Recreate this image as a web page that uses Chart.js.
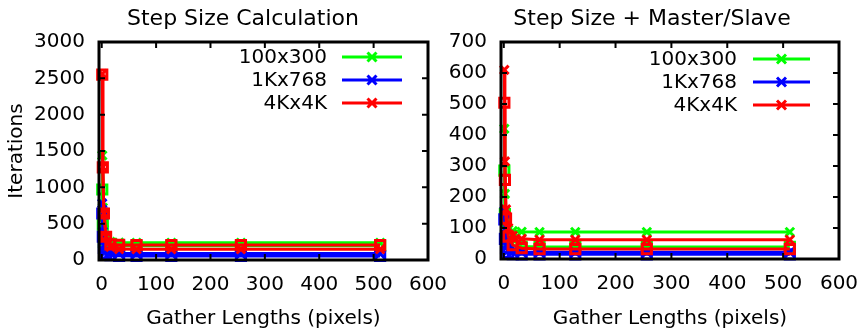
<!DOCTYPE html>
<html>
<head>
<meta charset="utf-8">
<script src="https://cdn.jsdelivr.net/npm/chart.js@4.4.0/dist/chart.umd.min.js"></script>
<style>
  html, body { margin: 0; padding: 0; background: #fff; }
  #wrap { position: relative; width: 861px; height: 329px; overflow: hidden; }
  canvas { position: absolute; top: 0; }
  #grafica-calc { left: 0; }
  #grafica-ms { left: 440px; }
</style>
</head>
<body>
<div id="wrap">
  <canvas id="grafica-calc" width="486" height="329"></canvas>
  <canvas id="grafica-ms" width="421" height="329"></canvas>
</div>
<script>
// Gather lengths (x) shared by every series
const gatherLengths = [1, 2, 4, 8, 16, 32, 64, 128, 256, 512];
const seriesNames = ['100x300', '1Kx768', '4Kx4K'];
const xTicks = [0, 100, 200, 300, 400, 500, 600];

// Step Size Calculation (left)
const calcYTicks = [0, 500, 1000, 1500, 2000, 2500, 3000];
const calcCross100 = [1440, 720, 420, 300, 250, 240, 238, 238, 238, 238];
const calcCross1K = [780, 390, 200, 120, 95, 90, 88, 88, 88, 88];
const calcCross4K = [2560, 1280, 640, 320, 180, 150, 148, 148, 148, 148];
const calcBox100 = [970, 485, 250, 200, 195, 195, 195, 195, 195, 195];
const calcBox1K = [640, 320, 165, 90, 65, 58, 55, 55, 55, 55];
const calcBox4K = [2550, 1275, 640, 320, 215, 208, 206, 206, 206, 206];

// Step Size + Master/Slave (right)
const msYTicks = [0, 100, 200, 300, 400, 500, 600, 700];
const msCross100 = [420, 210, 115, 95, 90, 88, 87, 87, 87, 87];
const msCross1K = [155, 80, 45, 28, 23, 22, 22, 22, 22, 22];
const msCross4K = [610, 315, 160, 100, 75, 65, 62, 62, 62, 62];
const msBox100 = [285, 145, 75, 50, 42, 40, 39, 39, 39, 39];
const msBox1K = [128, 65, 35, 20, 16, 15, 15, 15, 15, 15];
const msBox4K = [504, 255, 130, 72, 45, 35, 32, 32, 32, 32];

const colores = ['#00ff00', '#0000ff', '#ff0000'];
const fuente = 'DejaVu Sans';

// Una serie (cruces o cuadrados)
function serie(label, valores, color, estilo, orden) {
    return {
        label: label,
        data: gatherLengths.map((x, i) => ({ x: x, y: valores[i] })),
        borderColor: color,
        backgroundColor: 'rgba(0,0,0,0)',
        borderWidth: 3,
        pointStyle: estilo,
        pointRadius: estilo === 'rect' ? 6.5 : 6,
        pointBorderWidth: 3,
        pointBackgroundColor: 'rgba(0,0,0,0)',
        pointBorderColor: color,
        tension: 0,
        clip: 12,
        order: orden
    };
}

// Marco negro con marcas hacia adentro (estilo gnuplot)
const marco = {
    id: 'marco',
    afterDatasetsDraw(chart) {
        const { ctx, chartArea: a, scales } = chart;
        ctx.save();
        ctx.strokeStyle = '#000';
        ctx.lineWidth = 2;
        ctx.beginPath();
        scales.x.ticks.forEach(t => {
            const px = scales.x.getPixelForValue(t.value);
            ctx.moveTo(px, a.bottom); ctx.lineTo(px, a.bottom - 6);
            ctx.moveTo(px, a.top); ctx.lineTo(px, a.top + 6);
        });
        scales.y.ticks.forEach(t => {
            const py = scales.y.getPixelForValue(t.value);
            ctx.moveTo(a.left, py); ctx.lineTo(a.left + 6, py);
            ctx.moveTo(a.right, py); ctx.lineTo(a.right - 6, py);
        });
        ctx.stroke();
        ctx.lineWidth = 3;
        ctx.strokeRect(a.left, a.top, a.right - a.left, a.bottom - a.top);
        ctx.restore();
    }
};

// Título centrado como en la figura original (no sobre el área del gráfico)
const titulo = {
    id: 'titulo',
    afterDraw(chart, args, opts) {
        const ctx = chart.ctx;
        ctx.save();
        ctx.font = '22px "' + fuente + '"';
        ctx.fillStyle = '#000';
        ctx.textAlign = 'center';
        ctx.textBaseline = 'middle';
        ctx.fillText(opts.text, opts.x, opts.y);
        ctx.restore();
    }
};

// Leyenda dentro del área: texto a la derecha, luego línea con cruz
const leyenda = {
    id: 'leyenda',
    afterDraw(chart, args, opts) {
        const { ctx, chartArea: a } = chart;
        ctx.save();
        ctx.font = '20px "' + fuente + '"';
        ctx.textAlign = 'right';
        ctx.textBaseline = 'middle';
        let fila = 0;
        chart.data.datasets.forEach(ds => {
            if (!ds.label) return;
            const y = a.top + opts.top + fila * opts.step;
            ctx.fillStyle = '#000';
            ctx.fillText(ds.label, a.right - opts.text, y + 1);
            ctx.strokeStyle = ds.borderColor;
            ctx.lineWidth = 3;
            ctx.beginPath();
            ctx.moveTo(a.right - opts.lineStart, y);
            ctx.lineTo(a.right - opts.lineEnd, y);
            const mx = a.right - (opts.lineStart + opts.lineEnd) / 2;
            ctx.moveTo(mx - 4.5, y - 4.5); ctx.lineTo(mx + 4.5, y + 4.5);
            ctx.moveTo(mx - 4.5, y + 4.5); ctx.lineTo(mx + 4.5, y - 4.5);
            ctx.stroke();
            fila++;
        });
        ctx.restore();
    }
};

function crearGrafica(id, cfg) {
    const ctx = document.getElementById(id).getContext('2d');
    return new Chart(ctx, {
        type: 'line',
        data: {
            datasets: [
                serie(seriesNames[0], cfg.cruces[0], colores[0], 'crossRot', 3),
                serie(seriesNames[1], cfg.cruces[1], colores[1], 'crossRot', 2),
                serie(seriesNames[2], cfg.cruces[2], colores[2], 'crossRot', 1),
                serie('', cfg.cuadros[0], colores[0], 'rect', 6),
                serie('', cfg.cuadros[1], colores[1], 'rect', 5),
                serie('', cfg.cuadros[2], colores[2], 'rect', 0)
            ]
        },
        plugins: [marco, titulo, leyenda],
        options: {
            responsive: false,
            animation: false,
            layout: { padding: { left: 0, right: cfg.padRight, top: 42, bottom: 0 } },
            plugins: {
                legend: { display: false },
                tooltip: { enabled: false },
                title: { display: false },
                titulo: cfg.titulo,
                leyenda: cfg.leyenda
            },
            scales: {
                x: {
                    type: 'linear',
                    min: -5,
                    max: 600,
                    grid: { display: false, drawTicks: false },
                    border: { display: false },
                    ticks: {
                        color: '#000', font: { family: fuente, size: 20 }, padding: 13,
                        maxRotation: 0, autoSkip: false, callback: v => String(v)
                    },
                    afterBuildTicks: s => { s.ticks = xTicks.map(v => ({ value: v })); },
                    afterFit: s => { s.height = cfg.xHeight; s.paddingLeft = 0; s.paddingRight = 0; },
                    title: {
                        display: true,
                        text: 'Gather Lengths (pixels)',
                        color: '#000',
                        font: { family: fuente, size: 20, lineHeight: 1 },
                        padding: { top: 0, bottom: 0 }
                    }
                },
                y: {
                    type: 'linear',
                    min: 0,
                    max: cfg.yTicks[cfg.yTicks.length - 1],
                    grid: { display: false, drawTicks: false },
                    border: { display: false },
                    ticks: {
                        color: '#000', font: { family: fuente, size: 20 }, padding: 14,
                        autoSkip: false, callback: v => String(v)
                    },
                    afterBuildTicks: s => { s.ticks = cfg.yTicks.map(v => ({ value: v })); },
                    afterFit: s => { s.width = cfg.yWidth; s.paddingTop = 0; s.paddingBottom = 0; },
                    title: {
                        display: !!cfg.yTitulo,
                        text: cfg.yTitulo || '',
                        color: '#000',
                        font: { family: fuente, size: 20, lineHeight: 1 },
                        padding: { top: 7, bottom: 0 }
                    }
                }
            }
        }
    });
}

crearGrafica('grafica-calc', {
    titulo: { text: 'Step Size Calculation', x: 243, y: 19 },
    yTitulo: 'Iterations',
    yTicks: calcYTicks,
    cruces: [calcCross100, calcCross1K, calcCross4K],
    cuadros: [calcBox100, calcBox1K, calcBox4K],
    yWidth: 99,
    padRight: 58,
    xHeight: 69,
    leyenda: { top: 15, step: 23, text: 101, lineStart: 86, lineEnd: 26 }
});

crearGrafica('grafica-ms', {
    titulo: { text: 'Step Size + Master/Slave', x: 212, y: 19 },
    yTicks: msYTicks,
    cruces: [msCross100, msCross1K, msCross4K],
    cuadros: [msBox100, msBox1K, msBox4K],
    yWidth: 61,
    padRight: 22,
    xHeight: 70,
    leyenda: { top: 17, step: 23, text: 102, lineStart: 86, lineEnd: 29 }
});
</script>
</body>
</html>
